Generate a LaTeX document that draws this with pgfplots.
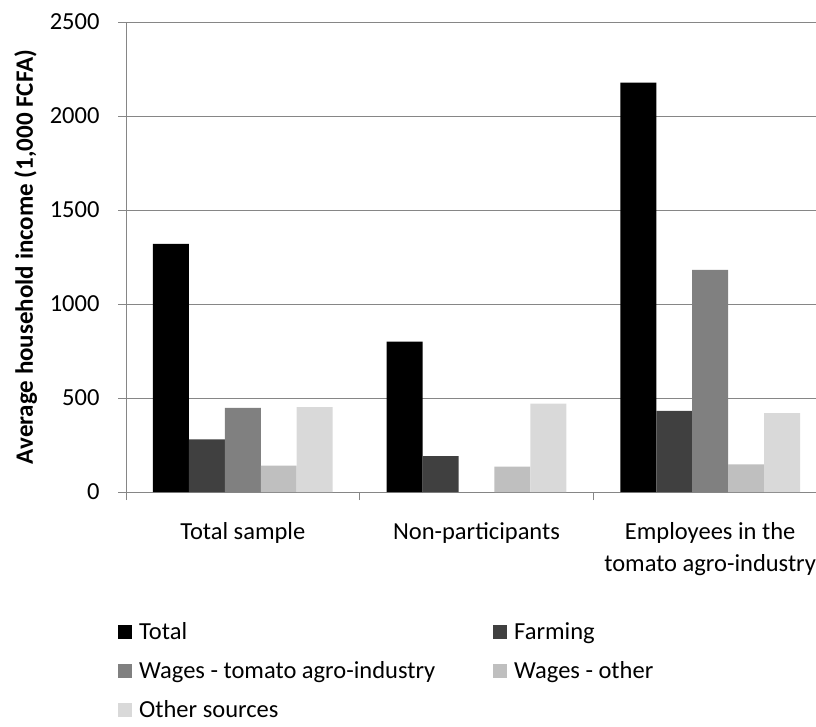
\documentclass[border=0pt]{standalone}
\usepackage{fontspec}
\setmainfont{Carlito}
\usepackage{pgfplots}
\pgfplotsset{compat=1.18}
\definecolor{cTotal}{RGB}{0,0,0}
\definecolor{cFarm}{RGB}{64,64,64}
\definecolor{cWT}{RGB}{128,128,128}
\definecolor{cWO}{RGB}{191,191,191}
\definecolor{cOth}{RGB}{217,217,217}
\definecolor{axgray}{RGB}{134,134,134}
\newcommand{\chartfont}{\fontsize{24.5}{32}\selectfont}
\newcommand{\lb}[1]{\makebox[353pt][l]{#1}}
\begin{document}
\begin{tikzpicture}
\useasboundingbox (0,0) rectangle (816pt,726pt);
\begin{axis}[
  at={(126pt,234pt)}, anchor=south west,
  scale only axis, width=690pt, height=470pt,
  xmin=-0.5, xmax=2.453, ymin=0, ymax=2500,
  axis x line=bottom, axis y line=left,
  axis line style={-, axgray, line width=0.9pt},
  ytick={0,500,...,2500},
  ymajorgrids, grid style={axgray, line width=0.9pt},
  xtick={-0.5,0.5,1.5}, xticklabels={},
  extra x ticks={0,1,2},
  extra x tick labels={Total sample, Non-participants, {Employees in the\\tomato agro-industry}},
  extra x tick style={major tick length=0pt, grid=none},
  tick align=outside,
  major tick length=8pt,
  tick style={axgray, line width=0.9pt},
  /pgf/number format/assume math mode=true,
  /pgf/number format/1000 sep={},
  tick label style={font=\chartfont, black},
  yticklabel style={xshift=-15pt},
  xticklabel style={align=center, anchor=north, yshift=-27pt},
  ylabel={Average household income (1,000 FCFA)},
  y label style={at={(axis description cs:-0.1348,0.5)}, anchor=base, font=\fontsize{25}{30}\selectfont\bfseries},
  ybar=0pt, bar width=0.1538,
  legend columns=2,
  legend style={at={(axis description cs:-0.0116,-0.2766)}, anchor=north west,
    draw=none, fill=none, inner sep=0pt, font=\chartfont, row sep=19pt, column sep=0pt,
    nodes={text height=16pt, text depth=2pt, inner sep=1pt}},
  legend cell align=left,
  legend image code/.code={\fill[#1] (0pt,-7pt) rectangle (14pt,7pt); \path (20pt,0pt);},
]
\addplot[fill=cTotal, draw=none] coordinates {(0,1320) (1,800) (2,2178)};
\addplot[fill=cFarm, draw=none] coordinates {(0,280) (1,191) (2,432)};
\addplot[fill=cWT, draw=none] coordinates {(0,447) (1,0) (2,1182)};
\addplot[fill=cWO, draw=none] coordinates {(0,140) (1,135) (2,147)};
\addplot[fill=cOth, draw=none] coordinates {(0,452) (1,470) (2,420)};
\legend{\lb{Total}, Farming, \lb{Wages - tomato agro-industry}, Wages - other, \lb{Other sources}}
\end{axis}
\end{tikzpicture}
\end{document}
